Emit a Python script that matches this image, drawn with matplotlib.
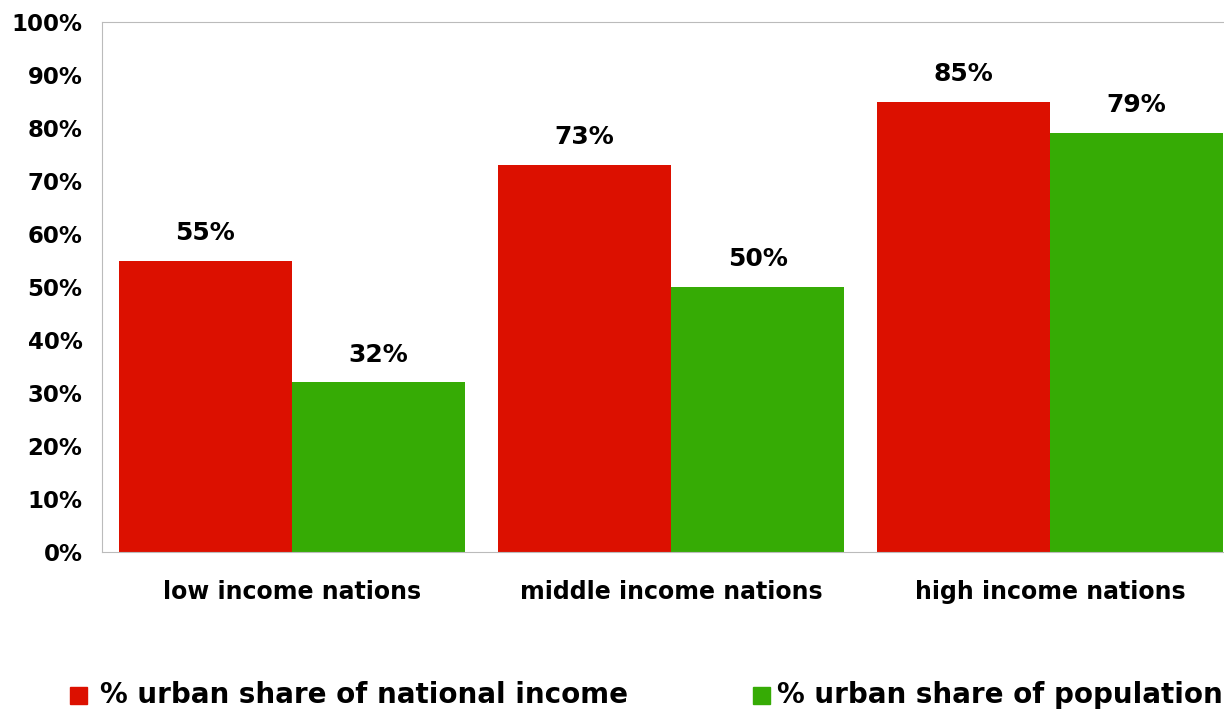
import matplotlib
matplotlib.use("Agg")
import matplotlib.pyplot as plt
import numpy as np

categories = ["low income nations", "middle income nations", "high income nations"]
income_share = [55, 73, 85]
pop_share = [32, 50, 79]
yticks = [0, 10, 20, 30, 40, 50, 60, 70, 80, 90, 100]

red = "#dc1000"
green = "#36ab05"

plt.rcParams['font.family'] = ['DejaVu Sans']
plt.rcParams['font.weight'] = 'bold'

fig = plt.figure(figsize=(12.24, 7.14), dpi=100)
ax = fig.add_axes([102/1224, 1-552/714, 1-102/1224, (552-22)/714])

x = np.arange(len(categories))
w = 0.457
ax.bar(x - w/2, income_share, w, color=red)
ax.bar(x + w/2, pop_share, w, color=green)

for xi, v in zip(x - w/2, income_share):
    ax.text(xi, v + 3.0, "%d%%" % v, ha='center', va='bottom', fontsize=18, fontweight='bold')
for xi, v in zip(x + w/2, pop_share):
    ax.text(xi, v + 3.0, "%d%%" % v, ha='center', va='bottom', fontsize=18, fontweight='bold')

ax.set_xlim(-0.501, 2.459)
ax.set_ylim(0, 100)
ax.set_yticks(yticks)
ax.set_yticklabels(["%d%%" % t for t in yticks], fontsize=16.5, fontweight='bold')
ax.set_xticks(x)
ax.set_xticklabels(categories, fontsize=17, fontweight='bold')
ax.tick_params(axis='both', length=0)
ax.tick_params(axis='x', pad=20)
ax.tick_params(axis='y', pad=14)
for s in ax.spines.values():
    s.set_color('#bbbbbb')
ax.spines['right'].set_visible(False)

# legend
fig.patches.append(plt.Rectangle((70/1224, 1-704/714), 17/1224, 17/714, color=red, transform=fig.transFigure))
fig.patches.append(plt.Rectangle((753/1224, 1-704/714), 17/1224, 17/714, color=green, transform=fig.transFigure))
fig.text(100/1224, 1-695/714, "% urban share of national income", fontsize=20, fontweight='bold', va='center')
fig.text(777/1224, 1-695/714, "% urban share of population", fontsize=20, fontweight='bold', va='center')

plt.savefig("out.png", dpi=100)
